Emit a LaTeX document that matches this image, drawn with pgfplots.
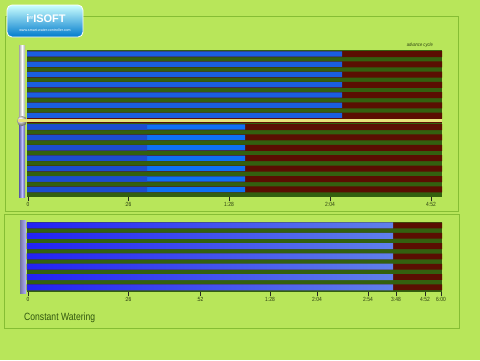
\documentclass[border=0pt]{standalone}
\usepackage{fontspec}
\setmainfont{Liberation Sans}
\newfontfamily\narrow[FakeStretch=0.82]{Liberation Sans}
\usepackage{pgfplots}
\pgfplotsset{compat=1.18}
\definecolor{bg}{HTML}{B8E65A}
\definecolor{frm}{HTML}{86BE34}
\definecolor{grn}{HTML}{33600F}
\definecolor{mar}{HTML}{5A0E02}
\definecolor{blueA}{HTML}{1A5EE0}
\definecolor{blueD}{HTML}{1C4CD0}
\definecolor{blueB}{HTML}{0E70F5}
\definecolor{blL}{HTML}{2222F2}
\definecolor{blR}{HTML}{6080EC}
\definecolor{txt}{HTML}{2A3E10}
\definecolor{cw}{HTML}{30560E}
\definecolor{yel}{HTML}{E6E27A}
\begin{document}
\begin{tikzpicture}[x=1pt,y=1pt]
\fill[bg] (0,0) rectangle (480,360);
\draw[frm, line width=0.9pt] (5,344) rectangle (458,149);
\draw[frm, line width=0.9pt] (4,146) rectangle (459,32);
% logo
\shade[rounded corners=5pt, top color=white!80!cyan, bottom color=cyan!60!blue!80!black] (7,355) rectangle (83,323);
\draw[white, line width=0.8pt, rounded corners=5pt] (7,355) rectangle (83,323);
\node[text=white, font=\bfseries\fontsize{11}{12}\selectfont, inner sep=0pt] at (46,341) {i\raisebox{3pt}{\fontsize{5}{5}\selectfont rr}ISOFT};
\node[text=white, font=\fontsize{3.6}{4}\selectfont, inner sep=0pt] at (45,329.5) {www.smart-water-controller.com};
% sliders
\shade[left color=gray!70, right color=gray!70, middle color=white] (19,315) rectangle (25,242);
\shade[left color=blue!30!gray, right color=blue!30!gray, middle color=blue!25!white] (19,236) rectangle (25,163);
\shade[ball color=white!85!gray] (22,239) circle (5);
\shade[left color=blue!20!gray!90, right color=blue!30!white] (20,140) rectangle (26,67);

\pgfplotsset{every axis/.append style={
  anchor=south west, scale only axis, width=415pt,
  xmin=0, xmax=415,
  axis x line*=bottom, axis y line=none,
  axis line style={draw=none},
  tick align=outside, major tick length=4pt,
  tick style={draw=black!85, line width=0.6pt},
  ticklabel style={font=\narrow\fontsize{6}{7}\selectfont, text=txt, inner sep=1.5pt},
  /pgf/number format/assume math mode=true,
  clip=false}}

\begin{axis}[at={(27pt,163pt)}, height=147pt, ymin=163, ymax=310,
  xtick={1,101,202,303,404}, xticklabels={0,:26,1:28,2:04,4:52}]
\addplot[xbar, bar shift=0pt, bar width=147, fill=grn, draw=none] coordinates {(415,236.5)};
\addplot[xbar, bar shift=0pt, bar width=6.0, fill=mar, draw=none] coordinates {
(415,306) (415,295.75) (415,285.5) (415,275.25) (415,265) (415,254.75) (415,244.5)
(415,233) (415,222.6) (415,212.2) (415,201.8) (415,191.4) (415,181) (415,170.6)};
\addplot[xbar, bar shift=0pt, bar width=5.2, fill=blueA, draw=none] coordinates {
(315,306) (315,295.75) (315,285.5) (315,275.25) (315,265) (315,254.75) (315,244.5)};
\addplot[xbar, bar shift=0pt, bar width=5.2, fill=blueB, draw=none] coordinates {
(218,233) (218,222.6) (218,212.2) (218,201.8) (218,191.4) (218,181) (218,170.6)};
\addplot[xbar, bar shift=0pt, bar width=5.2, fill=blueD, draw=none] coordinates {
(120,233) (120,222.6) (120,212.2) (120,201.8) (120,191.4) (120,181) (120,170.6)};
\addplot[draw=mar, line width=4.5pt] coordinates {(0,239.5) (415,239.5)};
\addplot[draw=yel, line width=2.6pt] coordinates {(-9,239.5) (415,239.5)};
\node[anchor=south east, font=\narrow\itshape\fontsize{5}{6}\selectfont, text=txt, inner sep=1pt] at (axis cs:407,311) {advance cycle};
\end{axis}

\begin{axis}[at={(27pt,68pt)}, height=70pt, ymin=68, ymax=138,
  xtick={1,101,173,243,290,341,369,398,414}, xticklabels={0,:26,:52,1:28,2:04,2:54,3:48,4:52,6:00}]
\addplot[xbar, bar shift=0pt, bar width=70, fill=grn, draw=none] coordinates {(415,103)};
\addplot[xbar, bar shift=0pt, bar width=5.8, fill=mar, draw=none] coordinates {
(415,134.5) (415,124.2) (415,113.9) (415,103.6) (415,93.3) (415,83) (415,72.7)};
\addplot[xbar, bar shift=0pt, bar width=6.0, left color=blL, right color=blR, draw=none] coordinates {
(366,134.5) (366,124.2) (366,113.9) (366,103.6) (366,93.3) (366,83) (366,72.7)};
\end{axis}

\node[anchor=base west, font=\narrow\fontsize{10.5}{12}\selectfont, text=cw, inner sep=0pt] at (24,40) {Constant Watering};
\pgfresetboundingbox
\path[use as bounding box] (0,0) rectangle (480,360);
\end{tikzpicture}
\end{document}
